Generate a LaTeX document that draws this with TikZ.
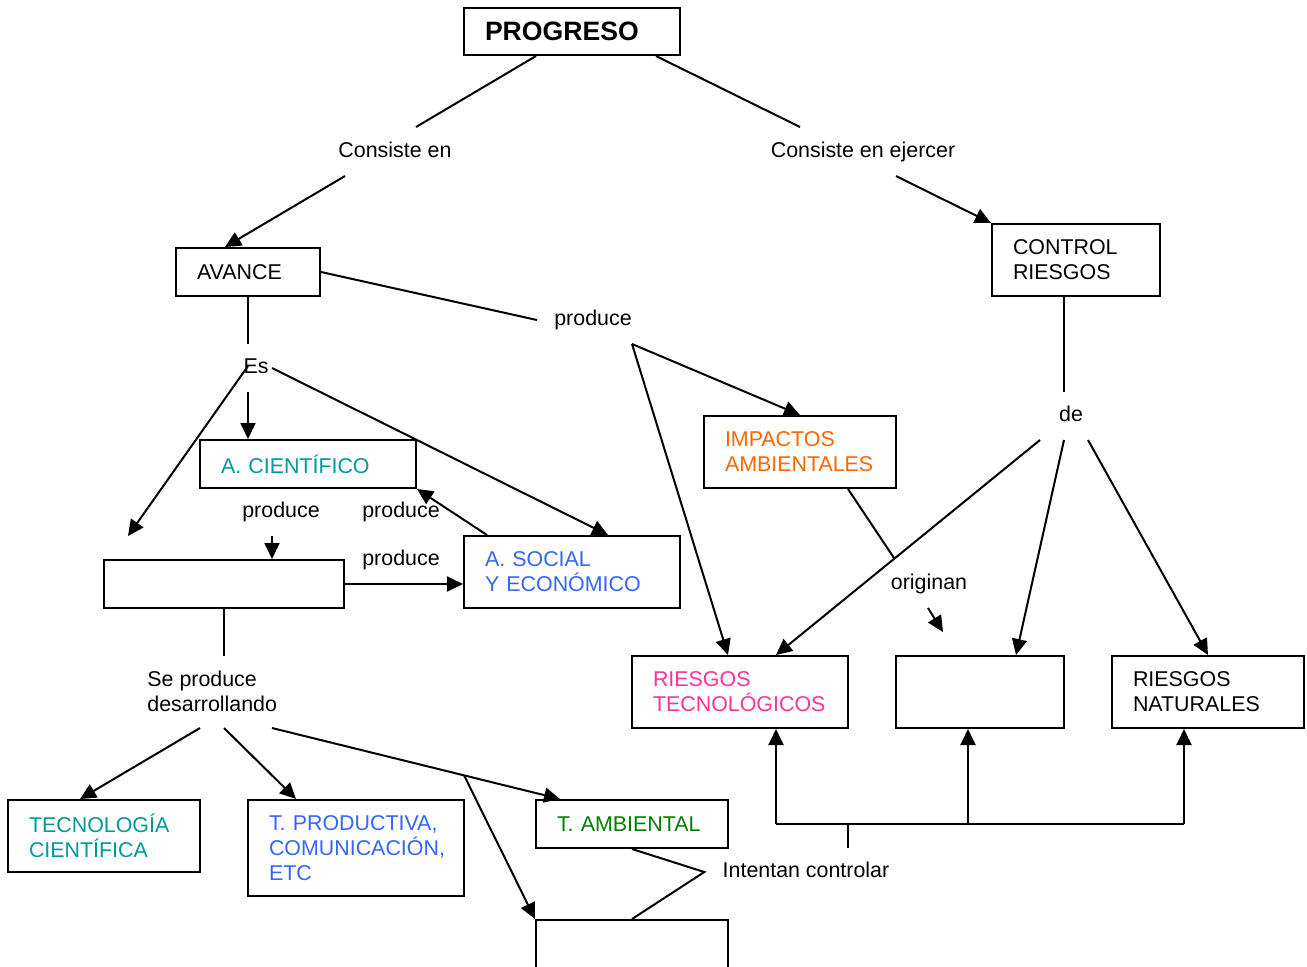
\documentclass[tikz,border=0pt]{standalone}
\usepackage{fontspec}
\setmainfont{Liberation Sans}
\usetikzlibrary{arrows.meta,calc}
\definecolor{cient}{RGB}{0,153,153}
\definecolor{azul}{RGB}{51,102,255}
\definecolor{naranja}{RGB}{255,102,0}
\definecolor{rosa}{RGB}{255,51,153}
\definecolor{verde}{RGB}{0,128,0}
\hyphenpenalty=10000
\begin{document}
\begin{tikzpicture}[x=0.5pt, y=-0.5pt,
  every node/.style = {font=\fontsize{10.7}{12.5}\selectfont, inner sep=0pt},
  box/.style = {draw, line width=1pt, rectangle, inner xsep=10.5pt, align=left},
  lbl/.style = {text height=9pt, text depth=2pt},
  lnk/.style = {line width=1pt},
  arr/.style = {line width=1pt, -{Triangle[length=8pt,width=7.5pt]}}
  ]
  \useasboundingbox (0,0) rectangle (1307,966);
  % boxes
  \node[box, text width=87pt, minimum height=23.5pt, text depth=0pt,
    font=\fontsize{13.3}{14}\selectfont\bfseries] (prog) at (572,31.5) {PROGRESO};
  \node[box, text width=51pt, minimum height=24pt] (avance) at (248,272) {AVANCE};
  \node[box, text width=63pt, minimum height=36pt] (control) at (1076,260) {CONTROL\\RIESGOS};
  \node[box, text width=87pt, minimum height=24pt, text=cient] (acient) at (308,464) {A. CIENTÍFICO};
  \node[box, minimum width=120pt, minimum height=24pt] (blank1) at (224,584) {};
  \node[box, text width=87pt, minimum height=36pt, text=azul] (asocial) at (572,572) {A. SOCIAL\\Y ECONÓMICO};
  \node[box, text width=75pt, minimum height=36pt, text=naranja] (impactos) at (800,452) {IMPACTOS\\AMBIENTALES};
  \node[box, text width=87pt, minimum height=36pt, text=rosa] (rtec) at (740,692) {RIESGOS\\TECNOLÓGICOS};
  \node[box, minimum width=84pt, minimum height=36pt] (blank2) at (980,692) {};
  \node[box, text width=75pt, minimum height=36pt] (rnat) at (1208,692) {RIESGOS\\NATURALES};
  \node[box, text width=75pt, minimum height=36pt, text=cient] (tcient) at (104,836) {TECNOLOGÍA\\CIENTÍFICA};
  \node[box, text width=87pt, minimum height=48pt, text=azul] (tprod) at (356,848) {T. PRODUCTIVA,\\COMUNICACIÓN,\\ETC};
  \node[box, text width=75pt, minimum height=24pt, text=verde] (tamb) at (632,824) {T. AMBIENTAL};
  \node[box, minimum width=96pt, minimum height=40pt] (blank3) at (632,960) {};
  % linking words
  \node[lbl] (cons) at (395,150) {Consiste en};
  \node[lbl] (ejer) at (863,150) {Consiste en ejercer};
  \node[lbl] (prod) at (593,318) {produce};
  \node[lbl] (es) at (256,366) {Es};
  \node[lbl] (de) at (1071,414) {de};
  \node[lbl] (prodA) at (281,510) {produce};
  \node[lbl] (prodB) at (401,510) {produce};
  \node[lbl] (prodC) at (401,558) {produce};
  \node[lbl] (orig) at (929,582) {originan};
  \node[anchor=west, align=left] (desa) at (147,691) {Se produce\\desarrollando};
  \node[lbl] (ictl) at (806,870) {Intentan controlar};
  \coordinate (vacio) at (128,536);
  % connectors
  \draw[lnk] ($(prog.south)+(-36,0)$) -- ($(cons)+(21,-23)$);
  \draw[lnk] ($(prog.south)+(84,0)$) -- ($(ejer)+(-63,-23)$);
  \draw[arr] ($(cons)+(-50,26)$) -- ($(avance.north)+(-23,0)$);
  \draw[arr] ($(ejer)+(33,26)$) -- (control.north west);
  \draw[lnk] (avance.east) -- ($(prod)+(-56,2)$);
  \draw[arr] ($(prod)+(39,26)$) -- (impactos.north);
  \draw[arr] ($(prod)+(39,26)$) -- ($(rtec.north)+(-12,0)$);
  \draw[lnk] (avance.south) -- ($(es)+(-8,-22)$);
  \draw[arr] ($(es)+(-8,0)$) -- (vacio);
  \draw[arr] ($(es)+(-8,26)$) -- ($(acient.north)+(-60,0)$);
  \draw[arr] ($(es)+(16,2)$) -- ($(asocial.north)+(36,0)$);
  \draw[arr] ($(prodA)+(-9,26)$) -- ($(blank1.north)+(48,0)$);
  \draw[arr] ($(asocial.north west)+(24,0)$) -- (acient.south east);
  \draw[arr] (blank1.east) -- (blank1.east -| asocial.west);
  \draw[lnk] (blank1.south) -- ($(desa.west)+(77,-35)$);
  \draw[arr] ($(desa.west)+(53,37)$) -- ($(tcient.north)+(-24,0)$);
  \draw[arr] ($(desa.west)+(77,37)$) -- ($(tprod.north)+(-60,0)$);
  \draw[arr] ($(desa.west)+(125,37)$) -- coordinate[pos=0.667] (rama) ($(tamb.north)+(-72,0)$);
  \draw[arr] (rama) -- (blank3.north west);
  \draw[lnk] ($(control.south)+(-12,0)$) -- ($(de)+(-7,-22)$);
  \draw[arr] ($(de)+(-31,26)$) -- ($(rtec.north)+(36,0)$);
  \draw[arr] ($(de)+(-7,26)$) -- ($(blank2.north)+(36,0)$);
  \draw[arr] ($(de)+(17,26)$) -- (rnat.north);
  \draw[lnk] ($(impactos.south)+(48,0)$) -- ($(orig)+(-35,-24)$);
  \draw[arr] ($(orig)+(-1,26)$) -- ($(orig)+(14,50)$);
  \draw[lnk] (tamb.south) -- ($(ictl.west)+(-18,2)$) -- (blank3.north);
  % control bar
  \coordinate (barra) at ($(ictl)+(42,-46)$);
  \coordinate (rt) at ($(rtec.south)+(36,0)$);
  \coordinate (bt) at ($(blank2.south)+(-12,0)$);
  \coordinate (rn) at ($(rnat.south)+(-24,0)$);
  \draw[lnk] ($(ictl)+(42,-22)$) -- (barra);
  \draw[lnk] (rt |- barra) -- (rn |- barra);
  \draw[arr] (rt |- barra) -- (rt);
  \draw[arr] (bt |- barra) -- (bt);
  \draw[arr] (rn |- barra) -- (rn);
\end{tikzpicture}
\end{document}
